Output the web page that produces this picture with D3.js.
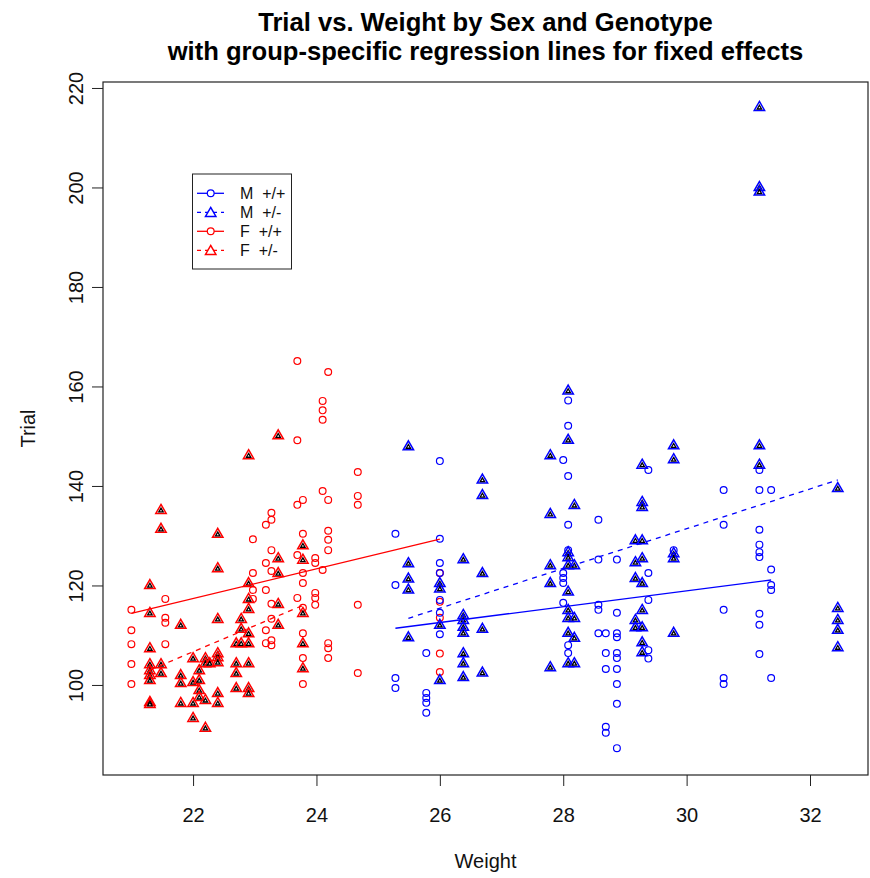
<!DOCTYPE html>
<html><head><meta charset="utf-8">
<script src="https://cdn.jsdelivr.net/npm/d3@7"></script>
<style>
html,body{margin:0;padding:0;background:#fff;}
svg{display:block;font-family:"Liberation Sans",Arial,sans-serif;}
</style></head>
<body><svg id="chart" width="870" height="878"></svg>
<script>
// ---- data (weight column, trial values) ----
const xTicks = [22, 24, 26, 28, 30, 32];
const yTicks = [100, 120, 140, 160, 180, 200, 220];

const femaleWT = [ // F +/+  (circles, red)
  [21.0, [115.1, 111, 108.2, 104.2, 100.2]],
  [21.55, [117.3, 113.5, 112.5, 108.2]],
  [22.97, [129.3, 122.5, 119.1, 117.3]],
  [23.18, [132.2, 124.5, 119.1, 111, 108.4]],
  [23.27, [134.6, 133.2, 127.1, 122.9, 116.3, 113.3, 109, 108]],
  [23.69, [165.1, 149.2, 136.2, 126.1, 117.5]],
  [23.78, [137.2, 130.4, 122.5, 120.5, 115.5, 110.4, 105.4, 100.2]],
  [23.98, [125.5, 124.5, 118.5, 117.5, 116.1]],
  [24.1, [157.1, 155.2, 153.3, 139, 123.1]],
  [24.19, [162.9, 137.2, 131, 129.2, 127.1, 108.4, 107.4, 105.4]],
  [24.67, [142.8, 138, 136.2, 116.1, 102.4]],
  [26.0, [122.5, 116.7, 113.5, 106.3, 102.6]]
];
const femaleHet = [ // F +/-  (triangles, red)
  [21.3, [120.1, 114.5, 107.4, 104.2, 103, 102, 101, 96.6, 96.2]],
  [21.48, [135.2, 131.4, 104.2, 102.4]],
  [21.8, [112.1, 102, 100.4, 96.4]],
  [22.0, [105.4, 100.6, 96.4, 93.4]],
  [22.1, [103, 101, 99, 97.6]],
  [22.2, [105.4, 104.4, 97, 91.4]],
  [22.27, [104.4]],
  [22.4, [130.4, 123.5, 113.3, 106.4, 105.6, 104.6, 98.4, 96.4]],
  [22.7, [108.4, 104.4, 102.4, 99.4]],
  [22.78, [113.3, 111.3, 108.4]],
  [22.9, [146.2, 120.5, 117.3, 115.3, 110.4, 108.4, 104.4, 99.4, 98.4]],
  [23.38, [150.2, 125.5, 122.5, 116.3, 112.1]],
  [23.78, [128.1, 125.2, 114.5, 108.4, 103.4]]
];
const maleWT = [ // M +/+ (circles, blue)
  [25.28, [130.4, 120.1, 101.4, 99.4]],
  [25.78, [106.4, 98.4, 97.4, 96.4, 94.4]],
  [26.0, [145, 129.4, 124.5, 122.5, 117.1, 114.5, 110.2]],
  [28.0, [145.2, 122.5, 121.5, 120.5, 116.5]],
  [28.08, [157.2, 152.1, 142, 132.2, 127.1, 108, 106.4]],
  [28.57, [133.2, 125.2, 116.1, 115.1, 110.4]],
  [28.69, [110.4, 106.4, 103.2, 91.6, 90.4]],
  [28.87, [125.2, 114.5, 110.4, 109.6, 106.4, 105.4, 103.2, 100.2, 96.2, 87.3]],
  [29.38, [143.2, 122.5, 117.1, 107, 105.3]],
  [29.79, [127.1]],
  [30.6, [139.2, 132.2, 115.1, 101.4, 100.2]],
  [31.18, [143.2, 139.2, 131.2, 128.2, 126.7, 125.7, 114.3, 112.1, 106.2]],
  [31.37, [139.2, 123.2, 120.1, 119.1, 101.4]]
];
const maleHet = [ // M +/- (triangles, blue)
  [25.49, [148, 124.5, 121.4, 119.2, 109.6]],
  [26.0, [120.5, 119.4, 112.1, 101]],
  [26.38, [125.3, 114.1, 113.1, 111.7, 110.5, 106.4, 104.4, 101.6]],
  [26.69, [141.3, 138.2, 122.5, 111.3, 102.5]],
  [27.79, [146.2, 134.4, 124.1, 120.5, 103.6]],
  [28.08, [159.2, 149.3, 126.7, 125.7, 124.1, 118.8, 115.1, 113.5, 110.5, 104.4]],
  [28.18, [136.2, 124.1, 113.5, 109.5, 104.4]],
  [29.17, [129.1, 124.7, 121.5, 113.1, 111.6]],
  [29.28, [144.3, 136.8, 135.8, 129.1, 125.5, 120.5, 115.1, 111.6, 108.6, 106.6]],
  [29.79, [148.2, 145.4, 126.5, 125.5, 110.5]],
  [31.18, [216.2, 200.1, 199.2, 148.2, 144.3]],
  [32.45, [139.6, 115.5, 113.1, 111.1, 107.6]]
];

// fitted regression lines (endpoints at each group's weight range)
const fitMaleWT = [[25.28, 111.4], [31.37, 121.1]];
const fitMaleHet = [[25.49, 113.4], [32.45, 141.2]];
const fitFemaleWT = [[21.0, 114.4], [26.0, 129.3]];
const fitFemaleHet = [[21.3, 103.0], [23.78, 116.0]];

const legendLabels = ["M  +/+", "M  +/-", "F  +/+", "F  +/-"];

// ---- drawing ----
const BLUE = "#0000ff", RED = "#ff0000";
const svg = d3.select("#chart");
svg.append("rect").attr("width", 870).attr("height", 878).attr("fill", "#fff");

const L = 103, R = 868, T = 82, B = 775;
const x = d3.scaleLinear().domain([20.54, 32.94]).range([L, R]);
const y = d3.scaleLinear().domain([81.9, 221.2]).range([B, T]);

const flat = cols => cols.flatMap(([w, vs]) => vs.map(v => [w, v]));

function circles(g, pts, color) {
  g.selectAll(null).data(pts).join("circle")
    .attr("cx", d => x(d[0])).attr("cy", d => y(d[1]))
    .attr("r", 3.4).attr("fill", "none").attr("stroke", color).attr("stroke-width", 1.2);
}
function tri(cx, cy, s) {
  return `M${cx},${cy - 5.4 * s}L${cx + 5.2 * s},${cy + 3.6 * s}L${cx - 5.2 * s},${cy + 3.6 * s}Z`;
}
function triangles(g, pts, color, inner) {
  const gg = g.selectAll(null).data(pts).join("g");
  gg.append("path").attr("d", d => tri(x(d[0]), y(d[1]), 1))
    .attr("fill", "none").attr("stroke", color).attr("stroke-width", 1.5);
  if (inner) {
    gg.append("path").attr("d", d => tri(x(d[0]), y(d[1]) + 0.6, 0.42))
      .attr("fill", "#fff").attr("stroke", "#000").attr("stroke-width", 1.3);
  }
}

const pg = svg.append("g");
circles(pg, flat(femaleWT), RED);
triangles(pg, flat(femaleHet), RED, true);
circles(pg, flat(maleWT), BLUE);
triangles(pg, flat(maleHet), BLUE, true);

const line = d3.line().x(d => x(d[0])).y(d => y(d[1]));
const lg = svg.append("g").attr("fill", "none").attr("stroke-width", 1.3);
lg.append("path").attr("d", line(fitMaleWT)).attr("stroke", BLUE);
lg.append("path").attr("d", line(fitMaleHet)).attr("stroke", BLUE).attr("stroke-dasharray", "5,5");
lg.append("path").attr("d", line(fitFemaleWT)).attr("stroke", RED);
lg.append("path").attr("d", line(fitFemaleHet)).attr("stroke", RED).attr("stroke-dasharray", "5,5");

// box
svg.append("rect").attr("x", L).attr("y", T).attr("width", R - L).attr("height", B - T)
  .attr("fill", "none").attr("stroke", "#222").attr("stroke-width", 1.2);

// axes
const xAxis = svg.append("g").attr("transform", `translate(0,${B})`)
  .call(d3.axisBottom(x).tickValues(xTicks).tickSize(11).tickSizeOuter(0).tickPadding(0));
xAxis.select(".domain").remove();
xAxis.selectAll("line").attr("stroke", "#222");
xAxis.selectAll("text").attr("font-size", 20).attr("font-family", "Liberation Sans, Arial")
  .attr("fill", "#111").attr("y", 47).attr("dy", 0);

const yAxis = svg.append("g").attr("transform", `translate(${L},0)`)
  .call(d3.axisLeft(y).tickValues(yTicks).tickSize(11).tickSizeOuter(0));
yAxis.select(".domain").remove();
yAxis.selectAll("line").attr("stroke", "#222");
yAxis.selectAll("text").attr("font-size", 20).attr("font-family", "Liberation Sans, Arial")
  .attr("fill", "#111").attr("x", null).attr("dy", 0)
  .attr("text-anchor", "middle").attr("transform", "translate(-20,0) rotate(-90)");

// axis titles
svg.append("text").attr("x", (L + R) / 2).attr("y", 868).attr("text-anchor", "middle")
  .attr("font-size", 20).attr("fill", "#111").text("Weight");
svg.append("text").attr("transform", `translate(35,${(T + B) / 2}) rotate(-90)`)
  .attr("text-anchor", "middle").attr("font-size", 20).attr("fill", "#111").text("Trial");

// title
const title = svg.append("g").attr("font-weight", "bold").attr("font-size", 25.6)
  .attr("text-anchor", "middle").attr("fill", "#000");
title.append("text").attr("x", (L + R) / 2).attr("y", 31).text("Trial vs. Weight by Sex and Genotype");
title.append("text").attr("x", (L + R) / 2).attr("y", 60).text("with group-specific regression lines for fixed effects");

// legend
const leg = svg.append("g");
leg.append("rect").attr("x", 192.5).attr("y", 174).attr("width", 99).attr("height", 95)
  .attr("fill", "#fff").attr("stroke", "#222").attr("stroke-width", 1);
const legItems = [
  { c: BLUE, dash: null, shape: "c" },
  { c: BLUE, dash: "5,5", shape: "t" },
  { c: RED, dash: null, shape: "c" },
  { c: RED, dash: "5,5", shape: "t" }
];
legItems.forEach((it, i) => {
  const cy = 193.3 + i * 19;
  leg.append("line").attr("x1", 197).attr("x2", 224).attr("y1", cy).attr("y2", cy)
    .attr("stroke", it.c).attr("stroke-width", 1.3).attr("stroke-dasharray", it.dash ? "4,4" : null)
    .attr("stroke-dashoffset", it.dash ? 0 : null);
  if (it.shape === "c") {
    leg.append("circle").attr("cx", 210.7).attr("cy", cy).attr("r", 3.4)
      .attr("fill", "#fff").attr("stroke", it.c).attr("stroke-width", 1.2);
  } else {
    leg.append("path").attr("d", tri(210.7, cy + 0.5, 1)).attr("fill", "#fff")
      .attr("stroke", it.c).attr("stroke-width", 1.5);
  }
  leg.append("text").attr("x", 240).attr("y", cy + 5.8).attr("font-size", 16)
    .attr("fill", "#111").style("white-space", "pre").text(legendLabels[i]);
});
</script></body></html>
